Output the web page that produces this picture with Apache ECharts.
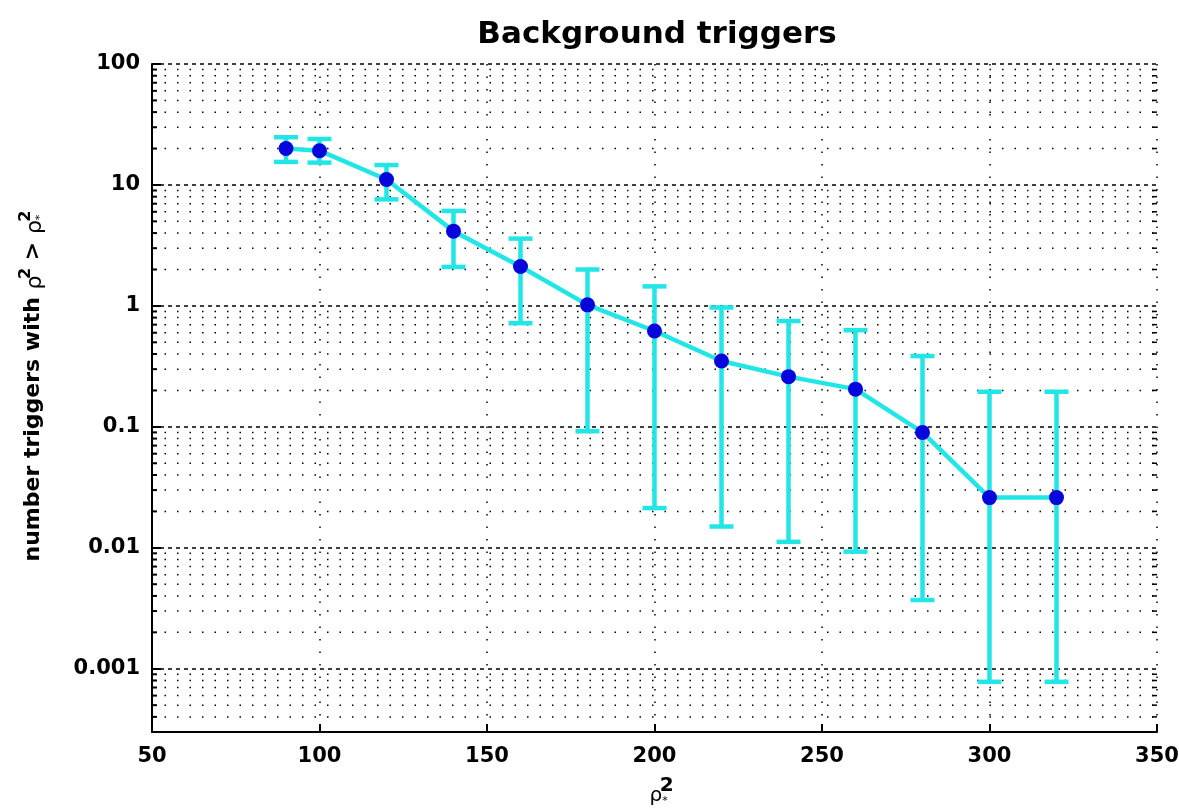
<!DOCTYPE html>
<html>
<head>
<meta charset="utf-8">
<title>Background triggers</title>
<script src="https://cdn.jsdelivr.net/npm/echarts@6/dist/echarts.min.js"></script>
<style>
  html, body { margin: 0; padding: 0; background: #fff; }
  #chart { width: 1179px; height: 808px; }
</style>
</head>
<body>
<div id="chart"></div>
<script>
// rho*^2 thresholds
const thresholds = [90, 100, 120, 140, 160, 180, 200, 220, 240, 260, 280, 300, 320];
// number of triggers above threshold
const counts = [20, 19.2, 11.1, 4.15, 2.12, 1.02, 0.62, 0.35, 0.26, 0.205, 0.09, 0.026, 0.026];
const errUpper = [24.8, 24, 14.6, 6.1, 3.6, 2.0, 1.45, 0.97, 0.75, 0.63, 0.385, 0.195, 0.195];
const errLower = [15.5, 15.3, 7.6, 2.1, 0.72, 0.092, 0.0213, 0.015, 0.0112, 0.0093, 0.0037, 0.00078, 0.00078];

const yDecades = [0.001, 0.01, 0.1, 1, 10];
const yMin = 0.0003;
const yMax = 100;

// minor log gridlines (2..9 x decade), plus the partial decade at the bottom
const minorVals = [];
[0.0001].concat(yDecades).forEach(d => {
  for (let m = 2; m <= 9; m++) {
    const v = d * m;
    if (v > yMin && v < yMax) minorVals.push(v);
  }
});

const FONT = 'DejaVu Sans';
const CYAN = '#22e6e6';

const chart = echarts.init(document.getElementById('chart'));

const fmtLog = (v) => {
  const lg = Math.log10(v);
  const e = Math.round(lg);
  if (Math.abs(lg - e) > 1e-6) return '';
  return e >= 0 ? String(Math.pow(10, e)) : Math.pow(10, e).toFixed(-e);
};

const option = {
  animation: false,
  backgroundColor: '#fff',
  title: {
    text: 'Background triggers',
    left: 652,
    textAlign: 'center',
    top: 14,
    textStyle: { fontFamily: FONT, fontWeight: 'bold', fontSize: 31, color: '#000' },
  },
  grid: { left: 152, right: 22, top: 64, bottom: 76, containLabel: false, outerBoundsMode: 'none' },
  xAxis: {
    type: 'value',
    min: 50,
    max: 350,
    interval: 50,
    name: '{r|ρ}{s|*}{p|2}',
    nameLocation: 'middle',
    nameGap: 44,
    nameTextStyle: {
      padding: [0, 0, 0, 14],
      rich: {
        r: { fontFamily: FONT, fontSize: 20, color: '#000', padding: [4, 0, 0, 0] },
        s: { fontFamily: FONT, fontSize: 11, color: '#000', padding: [14, 0, 0, 0] },
        p: { fontFamily: FONT, fontSize: 20, fontWeight: 'bold', color: '#000', padding: [0, 0, 16, -8] },
      },
    },
    axisLine: { lineStyle: { color: '#000', width: 2 } },
    axisTick: { inside: true, length: 8, lineStyle: { color: '#000', width: 2 } },
    axisLabel: {
      margin: 14,
      fontFamily: FONT,
      fontWeight: 'bold',
      fontSize: 21,
      color: '#000',
    },
    splitLine: { show: true, lineStyle: { color: '#000', width: 1.5, type: [1.5, 11] } },
  },
  yAxis: {
    type: 'log',
    logBase: 10,
    min: yMin,
    max: yMax,
    name: '{t|number triggers with }{r|ρ}{s| }{p|2}{t| > }{r|ρ}{s|*}{p|2}',
    nameLocation: 'middle',
    nameGap: 104,
    nameRotate: 90,
    nameTextStyle: {
      padding: [0, 0, 0, 24],
      rich: {
        t: { fontFamily: FONT, fontWeight: 'bold', fontSize: 22, color: '#000' },
        r: { fontFamily: FONT, fontSize: 22, color: '#000', padding: [4, 0, 0, 0] },
        s: { fontFamily: FONT, fontSize: 11, color: '#000', padding: [14, 0, 0, 0] },
        p: { fontFamily: FONT, fontSize: 16, fontWeight: 'bold', color: '#000', padding: [0, 0, 14, -7] },
      },
    },
    axisLine: { show: true, lineStyle: { color: '#000', width: 2 } },
    axisTick: { inside: true, length: 9, lineStyle: { color: '#000', width: 2 } },
    axisLabel: {
      margin: 12,
      fontFamily: FONT,
      fontWeight: 'bold',
      fontSize: 21,
      color: '#000',
      formatter: fmtLog,
    },
    splitLine: { show: true, lineStyle: { color: '#000', width: 1.5, type: [4, 4] } },
  },
  series: [
    {
      // minor log gridlines with small inner ticks
      type: 'custom',
      silent: true,
      z: 1,
      data: minorVals.map(v => [50, v]),
      renderItem(params, api) {
        const cs = params.coordSys;
        const y = api.coord([50, api.value(1)])[1];
        return {
          type: 'group',
          children: [
            {
              type: 'line',
              shape: { x1: cs.x, y1: y, x2: cs.x + cs.width, y2: y },
              style: { stroke: '#000', lineWidth: 1.5, lineDash: [1.5, 11] },
            },
            {
              type: 'line',
              shape: { x1: cs.x, y1: y, x2: cs.x + 5, y2: y },
              style: { stroke: '#000', lineWidth: 2 },
            },
            {
              type: 'line',
              shape: { x1: cs.x + cs.width - 5, y1: y, x2: cs.x + cs.width, y2: y },
              style: { stroke: '#000', lineWidth: 1.5 },
            },
          ],
        };
      },
    },
    {
      // error bars
      type: 'custom',
      z: 3,
      data: thresholds.map((x, i) => [x, errLower[i], errUpper[i]]),
      renderItem(params, api) {
        const lo = api.coord([api.value(0), api.value(1)]);
        const hi = api.coord([api.value(0), api.value(2)]);
        const hw = 12;
        const st = { stroke: CYAN, lineWidth: 4.5 };
        return {
          type: 'group',
          children: [
            { type: 'line', shape: { x1: lo[0], y1: lo[1], x2: hi[0], y2: hi[1] }, style: st },
            { type: 'line', shape: { x1: lo[0] - hw, y1: lo[1], x2: lo[0] + hw, y2: lo[1] }, style: st },
            { type: 'line', shape: { x1: hi[0] - hw, y1: hi[1], x2: hi[0] + hw, y2: hi[1] }, style: st },
          ],
        };
      },
    },
    {
      type: 'line',
      z: 4,
      data: thresholds.map((x, i) => [x, counts[i]]),
      symbol: 'circle',
      symbolSize: 15,
      lineStyle: { color: CYAN, width: 4.5 },
      itemStyle: { color: '#0505dc', borderWidth: 0 },
    },
  ],
};

chart.setOption(option);
</script>
</body>
</html>
